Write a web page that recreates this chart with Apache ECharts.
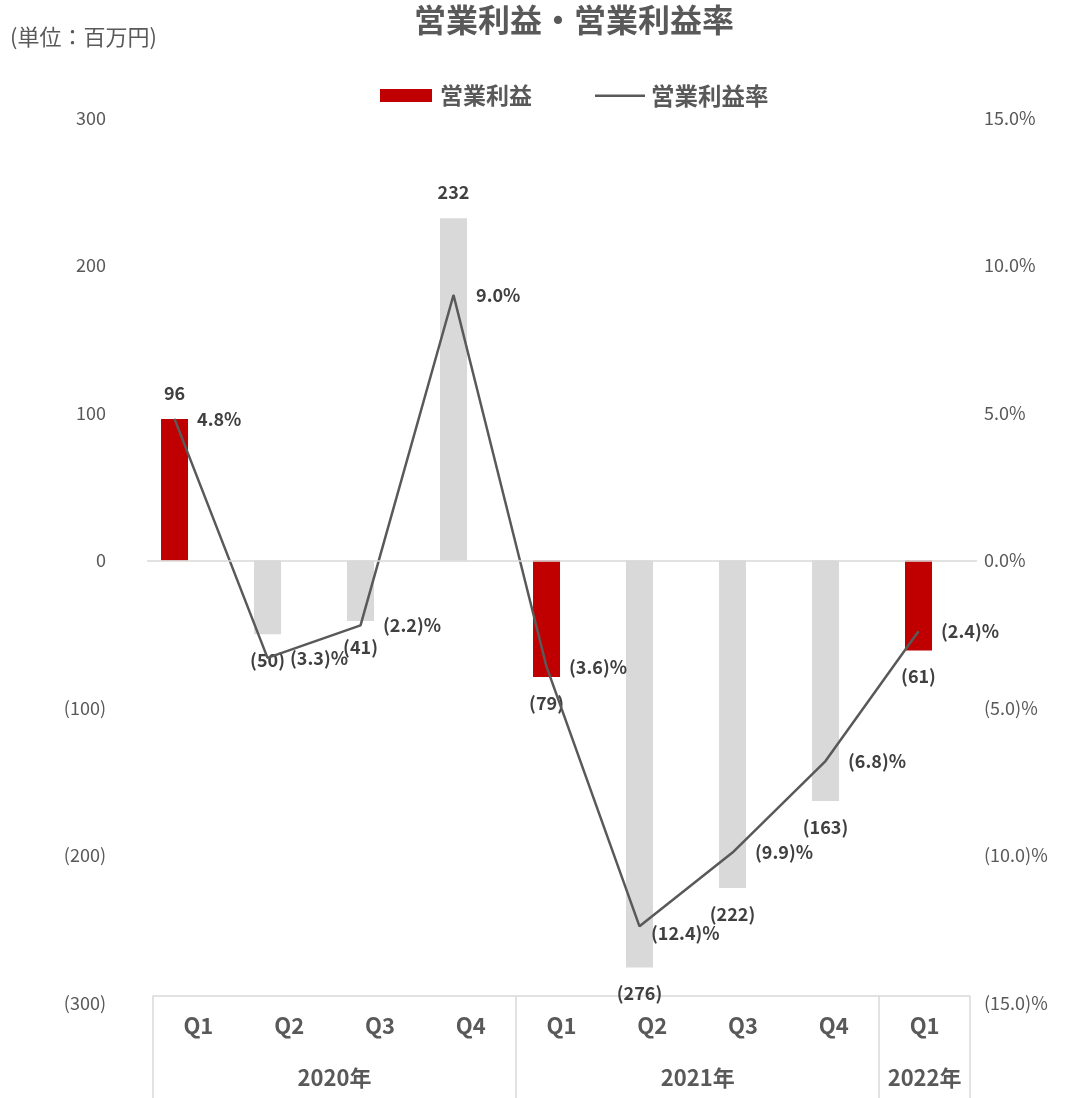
<!DOCTYPE html>
<html>
<head>
<meta charset="utf-8">
<script src="https://cdn.jsdelivr.net/npm/echarts@6/dist/echarts.min.js"></script>
<style>
  html, body { margin: 0; padding: 0; background: #ffffff; }
  #chart { width: 1066px; height: 1098px; }
</style>
</head>
<body>
<div id="chart"></div>
<script>
// Quarterly operating profit (million yen) and operating margin (%)
const quarters = ['Q1', 'Q2', 'Q3', 'Q4', 'Q1', 'Q2', 'Q3', 'Q4', 'Q1'];
const yearLabels = ['2020年', '2021年', '2022年'];
const yearQuarterCounts = [4, 4, 1];
const operatingProfit = [96, -50, -41, 232, -79, -276, -222, -163, -61];
const operatingMargin = [4.8, -3.3, -2.2, 9.0, -3.6, -12.4, -9.9, -6.8, -2.4];

const FONT = "'Noto Sans CJK JP', 'Noto Sans', sans-serif";
const TEXT_GRAY = '#595959';
const LABEL_DARK = '#404040';
const RED = '#C00000';
const LIGHT_GRAY = '#D9D9D9';

// accounting-style number formats: negatives in parentheses
const fmtAmount = v => v < 0 ? '(' + Math.abs(v) + ')' : String(v);
const fmtPct = v => v < 0 ? '(' + Math.abs(v).toFixed(1) + ')%' : v.toFixed(1) + '%';

// year group boundaries and label positions (in quarter units)
const yearBounds = [];
const yearMids = {};
let acc = 0;
yearQuarterCounts.forEach((n, k) => {
  yearBounds.push(acc);
  yearMids[acc + n / 2] = yearLabels[k];
  acc += n;
});

const barData = operatingProfit.map((v, i) => ({
  value: [i, v],
  itemStyle: quarters[i] === 'Q1' ? undefined : { color: LIGHT_GRAY },
  label: { position: v < 0 ? 'bottom' : 'top' }
}));

// one margin label sits tighter to its point to stay clear of the bar
const marginLabelNudge = { 5: [-11, 7] };
const lineData = operatingMargin.map((v, i) => (
  marginLabelNudge[i]
    ? { value: [i, v], label: { offset: marginLabelNudge[i] } }
    : { value: [i, v] }
));

const chart = echarts.init(document.getElementById('chart'), null, { renderer: 'canvas' });

chart.setOption({
  animation: false,
  backgroundColor: '#ffffff',
  textStyle: { fontFamily: FONT },
  title: [
    {
      text: '営業利益・営業利益率',
      left: 414,
      top: 4,
      padding: 0,
      textStyle: { fontFamily: FONT, fontSize: 32, fontWeight: 'bold', color: TEXT_GRAY }
    },
    {
      text: '(単位：百万円)',
      left: 10,
      top: 26,
      padding: 0,
      textStyle: { fontFamily: FONT, fontSize: 22, fontWeight: 'normal', color: TEXT_GRAY }
    }
  ],
  legend: [
    {
      data: ['営業利益'],
      left: 380,
      top: 84,
      padding: 0,
      icon: 'rect',
      itemWidth: 52,
      itemHeight: 13,
      textStyle: { fontFamily: FONT, fontSize: 23, fontWeight: 'bold', color: TEXT_GRAY, padding: [0, 0, 0, 3] }
    },
    {
      data: [{ name: '営業利益率', icon: 'rect' }],
      left: 595,
      top: 84,
      padding: 0,
      itemWidth: 50,
      itemHeight: 2.5,
      textStyle: { fontFamily: FONT, fontSize: 23.5, fontWeight: 'bold', color: TEXT_GRAY, padding: [0, 0, 0, 1] }
    }
  ],
  grid: [
    // plot area for bars and line
    { left: 147, right: 89, top: 118, bottom: 95, containLabel: false },
    // category table underneath
    { left: 153, right: 96, top: 118, bottom: 102, containLabel: false }
  ],
  xAxis: [
    {
      type: 'value',
      gridIndex: 0,
      min: -0.296,
      max: 8.629,
      show: false
    },
    {
      type: 'category',
      gridIndex: 1,
      position: 'bottom',
      data: quarters,
      boundaryGap: true,
      axisLine: { show: true, lineStyle: { color: LIGHT_GRAY, width: 1.5 } },
      axisTick: {
        show: true,
        interval: idx => yearBounds.indexOf(idx) >= 0,
        length: 110,
        lineStyle: { color: LIGHT_GRAY, width: 1.5 }
      },
      axisLabel: {
        interval: 0,
        margin: 19,
        fontFamily: FONT,
        fontSize: 22,
        fontWeight: 'bold',
        color: TEXT_GRAY
      },
      splitLine: { show: false }
    },
    {
      type: 'value',
      gridIndex: 1,
      position: 'bottom',
      min: 0,
      max: quarters.length,
      interval: 0.5,
      axisLine: { show: false },
      axisTick: { show: false },
      splitLine: { show: false },
      axisLabel: {
        margin: 71,
        fontFamily: FONT,
        fontSize: 22,
        fontWeight: 'bold',
        color: TEXT_GRAY,
        formatter: v => yearMids[v] || ''
      }
    }
  ],
  yAxis: [
    {
      type: 'value',
      gridIndex: 0,
      position: 'left',
      min: -300,
      max: 300,
      interval: 100,
      axisLine: { show: false },
      axisTick: { show: false },
      splitLine: { show: false },
      axisLabel: {
        margin: 41,
        fontFamily: FONT,
        fontSize: 18,
        color: TEXT_GRAY,
        formatter: fmtAmount
      }
    },
    {
      type: 'value',
      gridIndex: 0,
      position: 'right',
      min: -15,
      max: 15,
      interval: 5,
      axisLine: { show: false },
      axisTick: { show: false },
      splitLine: { show: false },
      axisLabel: {
        margin: 7,
        fontFamily: FONT,
        fontSize: 18,
        color: TEXT_GRAY,
        formatter: fmtPct
      }
    },
    { type: 'value', gridIndex: 1, show: false }
  ],
  series: [
    {
      name: '営業利益',
      type: 'bar',
      xAxisIndex: 0,
      yAxisIndex: 0,
      barWidth: 27,
      itemStyle: { color: RED },
      data: barData,
      label: {
        show: true,
        distance: 17,
        fontFamily: FONT,
        fontSize: 18,
        fontWeight: 'bold',
        color: LABEL_DARK,
        formatter: p => fmtAmount(p.value[1])
      },
      markLine: {
        silent: true,
        symbol: 'none',
        label: { show: false },
        lineStyle: { color: LIGHT_GRAY, width: 1.5, type: 'solid' },
        data: [{ yAxis: 0 }]
      },
      z: 2
    },
    {
      name: '営業利益率',
      type: 'line',
      xAxisIndex: 0,
      yAxisIndex: 1,
      data: lineData,
      symbol: 'circle',
      symbolSize: 1,
      showSymbol: true,
      itemStyle: { color: TEXT_GRAY },
      lineStyle: { color: TEXT_GRAY, width: 2.5 },
      label: {
        show: true,
        position: 'right',
        distance: 22,
        fontFamily: FONT,
        fontSize: 18,
        fontWeight: 'bold',
        color: LABEL_DARK,
        formatter: p => fmtPct(p.value[1])
      },
      z: 3
    }
  ]
});
</script>
</body>
</html>
